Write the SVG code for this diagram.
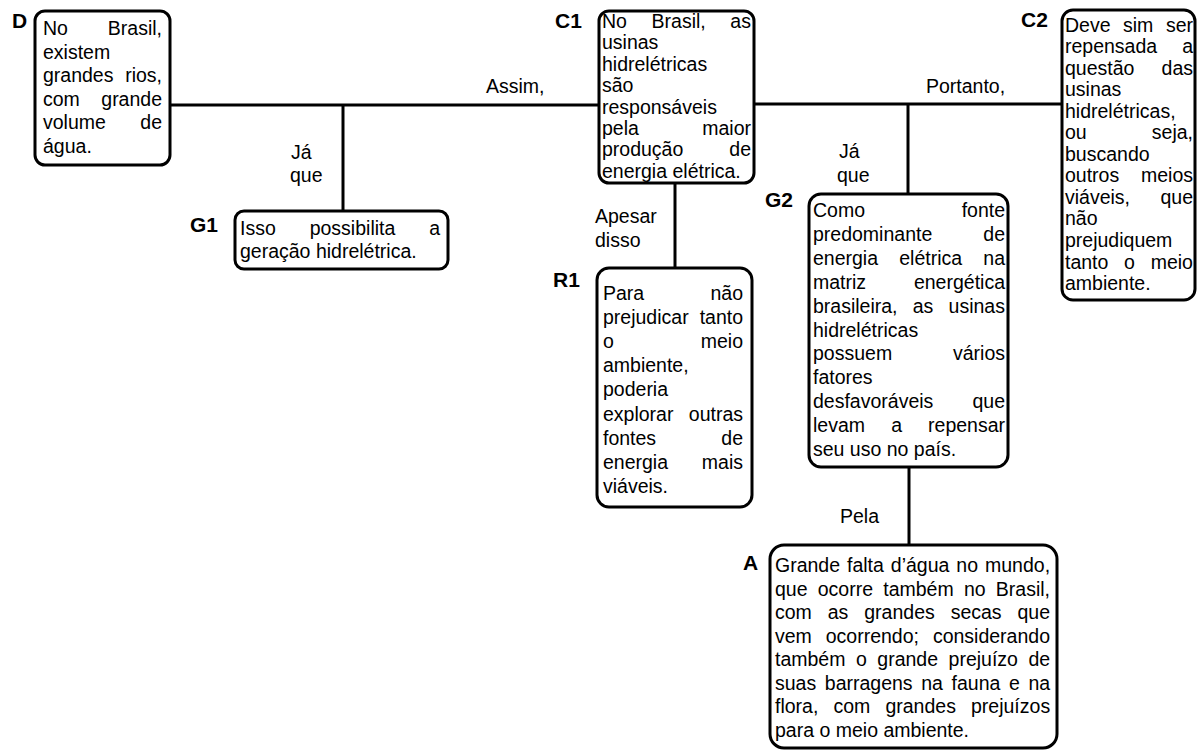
<svg xmlns="http://www.w3.org/2000/svg" width="1197" height="753" viewBox="0 0 1197 753">
<style>
.box{fill:#fff;stroke:#000;stroke-width:3}
.c{stroke:#000;stroke-width:3;fill:none}
text{font-family:"Liberation Sans",Arial,sans-serif;font-size:19.5px;fill:#000}
.e{text-anchor:end}
.lbl{font-weight:bold;font-size:21px}
</style>
<rect width="1197" height="753" fill="#fff"/>
<g id="connectors">
<line class="c" x1="170" y1="105" x2="599" y2="105"/>
<line class="c" x1="343" y1="105" x2="343" y2="211"/>
<line class="c" x1="754" y1="104" x2="1062" y2="104"/>
<line class="c" x1="908" y1="104" x2="908" y2="194"/>
<line class="c" x1="675" y1="183" x2="675" y2="268"/>
<line class="c" x1="909" y1="467" x2="909" y2="545"/>
<text x="486" y="93">Assim,</text>
<text x="291" y="159">Já</text>
<text x="290" y="182">que</text>
<text x="595" y="223">Apesar</text>
<text x="595" y="247">disso</text>
<text x="926" y="93">Portanto,</text>
<text x="839" y="158">Já</text>
<text x="837" y="182">que</text>
<text x="840" y="523">Pela</text>
</g>
<g id="D">
<rect class="box" x="35" y="11" width="135" height="154" rx="10"/>
<text class="lbl" x="12" y="28">D</text>
<text x="43" y="35">No</text><text class="e" x="162" y="35">Brasil,</text>
<text x="43" y="58.5">existem</text>
<text x="43" y="82">grandes</text><text class="e" x="162" y="82">rios,</text>
<text x="43" y="105.5">com</text><text class="e" x="162" y="105.5">grande</text>
<text x="43" y="129">volume</text><text class="e" x="162" y="129">de</text>
<text x="43" y="152.5">água.</text>
</g>
<g id="C1">
<rect class="box" x="599" y="11" width="155" height="172" rx="10"/>
<text class="lbl" x="555" y="28">C1</text>
<text x="602" y="28" style="word-spacing:19.2px">No Brasil, as</text>
<text x="602" y="49.4">usinas</text>
<text x="602" y="70.8">hidrelétricas</text>
<text x="602" y="92.2">são</text>
<text x="602" y="113.6">responsáveis</text>
<text x="602" y="135">pela</text><text class="e" x="751" y="135">maior</text>
<text x="602" y="156.4">produção</text><text class="e" x="751" y="156.4">de</text>
<text x="602" y="177.8">energia elétrica.</text>
</g>
<g id="C2">
<rect class="box" x="1062" y="10" width="133" height="290" rx="11"/>
<text class="lbl" x="1021" y="27">C2</text>
<text x="1065" y="31.5" style="word-spacing:7.1px">Deve sim ser</text>
<text x="1065" y="53">repensada</text><text class="e" x="1193" y="53">a</text>
<text x="1065" y="74.6">questão</text><text class="e" x="1193" y="74.6">das</text>
<text x="1065" y="96.1">usinas</text>
<text x="1065" y="117.7">hidrelétricas,</text>
<text x="1065" y="139.2">ou</text><text class="e" x="1193" y="139.2">seja,</text>
<text x="1065" y="160.8">buscando</text>
<text x="1065" y="182.3">outros</text><text class="e" x="1193" y="182.3">meios</text>
<text x="1065" y="203.9">viáveis,</text><text class="e" x="1193" y="203.9">que</text>
<text x="1065" y="225.4">não</text>
<text x="1065" y="247">prejudiquem</text>
<text x="1065" y="268.5" style="word-spacing:10.3px">tanto o meio</text>
<text x="1065" y="290.1">ambiente.</text>
</g>
<g id="G1">
<rect class="box" x="235" y="211" width="213" height="58" rx="9"/>
<text class="lbl" x="190" y="232">G1</text>
<text x="240" y="235" style="word-spacing:28.5px">Isso possibilita a</text>
<text x="240" y="258">geração hidrelétrica.</text>
</g>
<g id="R1">
<rect class="box" x="597" y="268" width="155" height="239" rx="12"/>
<text class="lbl" x="553" y="287">R1</text>
<text x="603" y="300">Para</text><text class="e" x="743" y="300">não</text>
<text x="603" y="324.1">prejudicar</text><text class="e" x="743" y="324.1">tanto</text>
<text x="603" y="348.2">o</text><text class="e" x="743" y="348.2">meio</text>
<text x="603" y="372.3">ambiente,</text>
<text x="603" y="396.4">poderia</text>
<text x="603" y="420.5">explorar</text><text class="e" x="743" y="420.5">outras</text>
<text x="603" y="444.6">fontes</text><text class="e" x="743" y="444.6">de</text>
<text x="603" y="468.7">energia</text><text class="e" x="743" y="468.7">mais</text>
<text x="603" y="492.8">viáveis.</text>
</g>
<g id="G2">
<rect class="box" x="809" y="194" width="199" height="273" rx="12"/>
<text class="lbl" x="765" y="207">G2</text>
<text x="813" y="217">Como</text><text class="e" x="1005" y="217">fonte</text>
<text x="813" y="240.9">predominante</text><text class="e" x="1005" y="240.9">de</text>
<text x="813" y="264.8" style="word-spacing:15.8px">energia elétrica na</text>
<text x="813" y="288.7">matriz</text><text class="e" x="1005" y="288.7">energética</text>
<text x="813" y="312.6" style="word-spacing:9.8px">brasileira, as usinas</text>
<text x="813" y="336.5">hidrelétricas</text>
<text x="813" y="360.4">possuem</text><text class="e" x="1005" y="360.4">vários</text>
<text x="813" y="384.3">fatores</text>
<text x="813" y="408.2">desfavoráveis</text><text class="e" x="1005" y="408.2">que</text>
<text x="813" y="432.1" style="word-spacing:20.7px">levam a repensar</text>
<text x="813" y="456">seu uso no país.</text>
</g>
<g id="A">
<rect class="box" x="770" y="545" width="287" height="203" rx="14"/>
<text class="lbl" x="743" y="570">A</text>
<text x="775" y="572" style="word-spacing:1.55px">Grande falta d’água no mundo,</text>
<text x="775" y="595.5" style="word-spacing:4.8px">que ocorre também no Brasil,</text>
<text x="775" y="619" style="word-spacing:10.5px">com as grandes secas que</text>
<text x="775" y="642.5" style="word-spacing:8.5px">vem ocorrendo; considerando</text>
<text x="775" y="666" style="word-spacing:5.1px">também o grande prejuízo de</text>
<text x="775" y="689.5" style="word-spacing:3.2px">suas barragens na fauna e na</text>
<text x="775" y="713" style="word-spacing:9.7px">flora, com grandes prejuízos</text>
<text x="775" y="736.5">para o meio ambiente.</text>
</g>
</svg>
